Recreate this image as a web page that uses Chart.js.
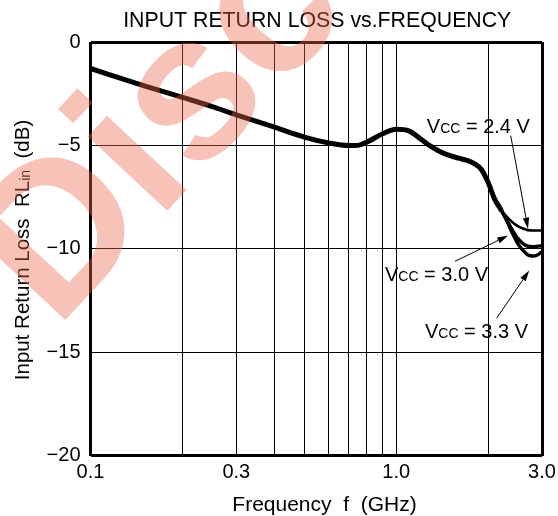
<!DOCTYPE html>
<html><head><meta charset="utf-8">
<script src="https://cdn.jsdelivr.net/npm/chart.js@4/dist/chart.umd.min.js"></script>
<style>html,body{margin:0;padding:0;background:#fff;}canvas{display:block;}</style>
</head><body>
<canvas id="c" width="558" height="516"></canvas>
<script>
// ---- data ----
const freqCommon = [0.1,0.15,0.2,0.25,0.3,0.4,0.45,0.5,0.6,0.7,0.75,0.8,0.9,1.0,1.1,1.2,1.3,1.4,1.5,1.6,1.7,1.8,1.9,2.0,2.1,2.2];
const rlCommon   = [-1.28,-2.12,-2.68,-3.12,-3.52,-4.12,-4.38,-4.6,-4.88,-5.01,-5.0,-4.85,-4.45,-4.22,-4.3,-4.68,-5.05,-5.32,-5.5,-5.62,-5.72,-5.88,-6.17,-6.8,-7.6,-8.1];
const freqBranch = [2.2,2.3,2.4,2.5,2.6,2.7,2.8,2.9,3.0];
const rlVcc24 = [-8.1,-8.45,-8.72,-8.9,-9.02,-9.1,-9.12,-9.12,-9.12];
const rlVcc30 = [-8.1,-8.6,-9.1,-9.5,-9.75,-9.88,-9.9,-9.88,-9.85];
const rlVcc33 = [-8.1,-8.65,-9.25,-9.75,-10.08,-10.3,-10.35,-10.3,-10.15];
const vccNames = ['2.4','3.0','3.3'];

const xGridVals = [0.1,0.2,0.3,0.4,0.5,0.6,0.7,0.8,0.9,1,2,3];
const xLabelVals = [0.1,0.3,1,3];
const xLabelText = ['0.1','0.3','1.0','3.0'];
const yTickVals = [0,-5,-10,-15,-20];
const yTickText = ['0','\u22125','\u221210','\u221215','\u221220'];

const titleText = 'INPUT RETURN LOSS vs.FREQUENCY';
const xTitleText = 'Frequency  f  (GHz)';
const yTitleParts = ['Input Return Loss  RL', 'in', '  (dB)'];
const watermarkText = 'Discontinued';

// annotation anchors in data coordinates (label baseline start, arrow start, arrow tip)
const annLabelF = [1.26, 0.919, 1.242];
const annLabelY = [-4.38, -11.58, -14.32];
const annFromF  = [2.37, 1.557, 2.132];
const annFromY  = [-4.53, -10.61, -13.36];
const annToF    = [2.70, 2.326, 2.725];
const annToY    = [-9.03, -9.36, -11.05];

const FONT = '"Liberation Sans", Arial, Helvetica, sans-serif';

const pts = (xs, ys) => xs.map((f, i) => ({x: f, y: ys[i]}));

function drawArrow(ctx, x0, y0, x1, y1) {
  const ang = Math.atan2(y1 - y0, x1 - x0);
  const L = 11, W = 3.2;
  const bx = x1 - L * Math.cos(ang), by = y1 - L * Math.sin(ang);
  ctx.beginPath();
  ctx.lineWidth = 1;
  ctx.moveTo(x0, y0); ctx.lineTo(bx, by); ctx.stroke();
  ctx.beginPath();
  ctx.moveTo(x1, y1);
  ctx.lineTo(bx + W * Math.sin(ang), by - W * Math.cos(ang));
  ctx.lineTo(bx - W * Math.sin(ang), by + W * Math.cos(ang));
  ctx.closePath(); ctx.fill();
}

function drawVcc(ctx, x, y, v) {
  ctx.textAlign = 'left'; ctx.textBaseline = 'alphabetic';
  ctx.font = '20px ' + FONT;
  ctx.fillText('V', x, y);
  let cx = x + ctx.measureText('V').width;
  ctx.font = '14px ' + FONT;
  ctx.fillText('CC', cx, y);
  cx += ctx.measureText('CC').width;
  ctx.font = '20px ' + FONT;
  ctx.fillText(' = ' + v + ' V', cx, y);
}

const overlay = {
  id: 'overlay',
  afterDatasetsDraw(chart) {
    const {ctx} = chart; const xs = chart.scales.x, ys = chart.scales.y;
    ctx.save();
    ctx.fillStyle = '#000'; ctx.strokeStyle = '#000';
    for (let i = 0; i < vccNames.length; i++) {
      drawVcc(ctx, xs.getPixelForValue(annLabelF[i]), ys.getPixelForValue(annLabelY[i]), vccNames[i]);
      drawArrow(ctx, xs.getPixelForValue(annFromF[i]), ys.getPixelForValue(annFromY[i]),
                     xs.getPixelForValue(annToF[i]), ys.getPixelForValue(annToY[i]));
    }
    ctx.restore();
  },
  afterDraw(chart) {
    const {ctx, chartArea: ca} = chart;
    ctx.save();
    ctx.fillStyle = '#000';
    // title
    ctx.font = '21.3px ' + FONT; ctx.textAlign = 'center'; ctx.textBaseline = 'alphabetic';
    ctx.fillText(titleText, (ca.left + ca.right) / 2 + 1, 27);
    // x title
    ctx.font = '21px ' + FONT;
    ctx.fillText(xTitleText, 324.5, 510.5);
    // y title (rotated, with subscript)
    ctx.save();
    ctx.translate(28.5, 250);
    ctx.rotate(-Math.PI / 2);
    ctx.textAlign = 'left';
    ctx.font = '20.5px ' + FONT; const w0 = ctx.measureText(yTitleParts[0]).width;
    ctx.font = '14px ' + FONT; const w1 = ctx.measureText(yTitleParts[1]).width;
    ctx.font = '20.5px ' + FONT; const w2 = ctx.measureText(yTitleParts[2]).width;
    let sx = -(w0 + w1 + w2) / 2;
    ctx.fillText(yTitleParts[0], sx, 0); sx += w0;
    ctx.font = '14px ' + FONT; ctx.fillText(yTitleParts[1], sx, 1.5); sx += w1;
    ctx.font = '20.5px ' + FONT; ctx.fillText(yTitleParts[2], sx, 0);
    ctx.restore();
    // watermark
    ctx.save();
    ctx.globalAlpha = 0.4;
    ctx.fillStyle = 'rgb(235,105,80)';
    ctx.translate(56, 330);
    ctx.rotate(-47 * Math.PI / 180);
    ctx.font = 'bold 206px ' + FONT;
    ctx.textAlign = 'left'; ctx.textBaseline = 'alphabetic';
    ctx.fillText(watermarkText, 0, 0);
    ctx.restore();
    ctx.restore();
  }
};

const edgeW = (v, a, b) => (Math.abs(v - a) < 1e-9 || Math.abs(v - b) < 1e-9) ? 3 : 1;

new Chart(document.getElementById('c'), {
  type: 'line',
  data: {
    datasets: [
      {label: 'common', data: pts(freqCommon, rlCommon), borderWidth: 5},
      {label: 'VCC = ' + vccNames[0] + ' V', data: pts(freqBranch, rlVcc24), borderWidth: 2.6},
      {label: 'VCC = ' + vccNames[1] + ' V', data: pts(freqBranch, rlVcc30), borderWidth: 3.4},
      {label: 'VCC = ' + vccNames[2] + ' V', data: pts(freqBranch, rlVcc33), borderWidth: 3.4}
    ].map(d => Object.assign({borderColor: '#000', pointRadius: 0, fill: false,
       cubicInterpolationMode: 'monotone', borderCapStyle: 'round', borderJoinStyle: 'round'}, d))
  },
  options: {
    responsive: false, animation: false, devicePixelRatio: 1,
    layout: {padding: {top: 42, right: 16, left: 0, bottom: 0}},
    plugins: {legend: {display: false}, tooltip: {enabled: false}, title: {display: false}},
    scales: {
      x: {
        type: 'logarithmic', min: 0.1, max: 3,
        afterBuildTicks: s => { s.ticks = xGridVals.map(v => ({value: v})); },
        afterFit: s => { s.height = 60.5; s.paddingLeft = 0; s.paddingRight = 0; },
        ticks: {
          autoSkip: false, maxRotation: 0, padding: 5, color: '#000',
          font: {family: FONT, size: 20},
          callback: v => { const i = xLabelVals.findIndex(t => Math.abs(t - v) < 1e-9); return i >= 0 ? xLabelText[i] : ''; }
        },
        grid: {color: '#000', drawTicks: false, lineWidth: c => edgeW(c.tick ? c.tick.value : 0, 0.1, 3)},
        border: {display: false}
      },
      y: {
        type: 'linear', min: -20, max: 0,
        afterBuildTicks: s => { s.ticks = yTickVals.map(v => ({value: v})); },
        afterFit: s => { s.width = 90.5; s.paddingTop = 0; s.paddingBottom = 0; },
        ticks: {
          padding: 10, color: '#000', font: {family: FONT, size: 20},
          callback: v => { const i = yTickVals.indexOf(v); return i >= 0 ? yTickText[i] : ''; }
        },
        grid: {color: '#000', drawTicks: false, lineWidth: c => edgeW(c.tick ? c.tick.value : 1, 0, -20)},
        border: {display: false}
      }
    }
  },
  plugins: [overlay]
});
</script>
</body></html>
